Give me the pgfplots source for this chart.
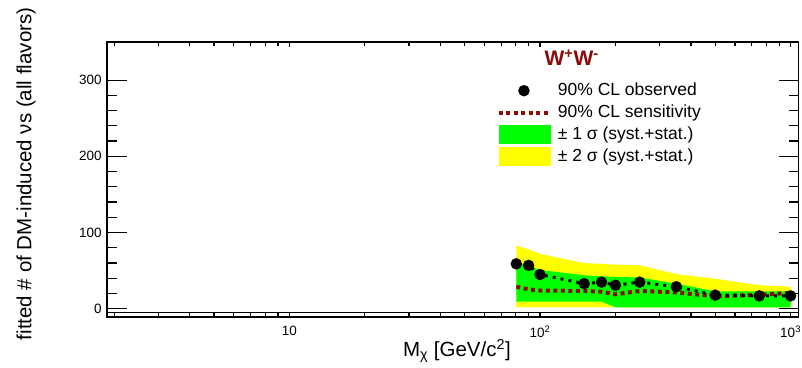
\documentclass[border=0pt]{standalone}
\usepackage{fontspec}
\setmainfont{Liberation Sans}
\usepackage{pgfplots}
\usepackage{pgfplotstable}
\pgfplotsset{compat=1.18}
\usepgfplotslibrary{fillbetween}
\definecolor{dred}{RGB}{140,10,10}
\definecolor{rgreen}{RGB}{0,255,0}
\definecolor{ryellow}{RGB}{255,255,0}

\pgfplotstableread{
m obs sens g2u g1u g1l g2l
80.4 59 29 83 62 9.5 2
90 57 25.5 78 56 9.5 2
100 45 24 72 51 9.5 2
150 33 23.5 60 44 9.5 2
176 35 22.5 59 42.5 9.5 2
200 31 19 58 42 2 2
250 35 23.5 57 41 2 2
350 29 21.5 45.5 33 2 2
500 18 16.5 39.5 23 2 2
750 17 18.5 31 23 2 2
1000 17 21 29 23 2 2
}\data

\begin{document}
\begin{tikzpicture}
\path (0pt,0pt) rectangle (802pt,368pt);
\begin{axis}[
  at={(107pt,51pt)}, anchor=south west, scale only axis,
  width=692pt, height=275pt,
  xmode=log, xmin=1.87, xmax=1076, ymin=-10.5, ymax=350,
  axis line style={line width=1.6pt},
  xtick={10,100,1000},
  xticklabels={10,10\textsuperscript{2},10\textsuperscript{3}},
  minor xtick={2,3,...,9,20,30,...,90,200,300,...,900},
  ytick=\empty,
  major tick length=5pt, minor tick length=4pt,
  tick style={line width=1.2pt, black},
  xtick pos=both,
  xticklabel style={font=\fontsize{13.5}{16}\selectfont, inner sep=1pt, yshift=-8pt},
  xlabel={M\textsubscript{χ} [GeV/c\textsuperscript{2}]},
  xlabel style={font=\fontsize{20.5}{24}\selectfont, at={(axis description cs:0.506,-0.124)}, anchor=center},
  legend cell align=left,
  legend style={at={(axis description cs:0.5636,0.858)}, anchor=north west,
    draw=none, fill=none, inner sep=0pt,
    font=\fontsize{17.5}{20}\selectfont,
    nodes={inner sep=1pt, text height=13pt, text depth=4pt},
    row sep=3pt,
    /tikz/every odd column/.append style={column sep=6pt}},
]
\addplot[name path=yu, draw=none, forget plot] table[x=m,y=g2u]{\data};
\addplot[name path=yl, draw=none, forget plot] table[x=m,y=g2l]{\data};
\addplot[name path=gu, draw=none, forget plot] table[x=m,y=g1u]{\data};
\addplot[name path=gl, draw=none, forget plot] table[x=m,y=g1l]{\data};
\addplot[ryellow, forget plot] fill between[of=yu and yl];
\addplot[rgreen, forget plot] fill between[of=gu and gl];
\addplot[dred, line width=4pt, dash pattern=on 4pt off 3.5pt, forget plot] table[x=m,y=sens]{\data};
\addplot[black, line width=3pt, dash pattern=on 3pt off 5pt, forget plot] table[x=m,y=obs]{\data};
\addplot[only marks, mark=*, mark size=5.5pt, black, forget plot] table[x=m,y=obs]{\data};
\addplot[black, line width=1.2pt, forget plot] coordinates {(1.87,-5) (1076,-5)};

\addlegendimage{legend image code/.code={\fill[black] (25pt,0pt) circle (5.5pt);}}
\addlegendentry{90\% CL observed}
\addlegendimage{legend image code/.code={\draw[dred, line width=4pt, dash pattern=on 4pt off 3.5pt] (0pt,0pt) -- (50pt,0pt);}}
\addlegendentry{90\% CL sensitivity}
\addlegendimage{legend image code/.code={\fill[rgreen] (0pt,-9pt) rectangle (51pt,9pt);}}
\addlegendentry{± 1 σ (syst.+stat.)}
\addlegendimage{legend image code/.code={\fill[ryellow] (0pt,-9pt) rectangle (51pt,9pt);}}
\addlegendentry{± 2 σ (syst.+stat.)}

\node[font=\bfseries\fontsize{21}{24}\selectfont, text=dred] at (axis description cs:0.672,0.942) {W\textsuperscript{+}W\textsuperscript{-}};
\end{axis}
\begin{axis}[
  at={(107pt,51pt)}, anchor=south west, scale only axis,
  width=692pt, height=275pt,
  xmode=log, xmin=1.87, xmax=1076, ymin=-10.5, ymax=350,
  axis line style={line width=1.6pt},
  xtick=\empty,
  ytick={0,100,200,300}, minor y tick num=4,
  major tick length=20pt, minor tick length=10pt,
  tick style={line width=1.2pt, black},
  ytick pos=both,
  /pgf/number format/assume math mode=true,
  yticklabel style={font=\fontsize{13.5}{16}\selectfont, inner sep=1pt, xshift=-4pt},
  ylabel={fitted \# of DM-induced νs (all flavors)},
  ylabel style={font=\fontsize{20.5}{24}\selectfont, at={(axis description cs:-0.117,0.52)}, anchor=center},
]
\addplot[draw=none] coordinates {(10,0)};
\end{axis}
\end{tikzpicture}
\end{document}
